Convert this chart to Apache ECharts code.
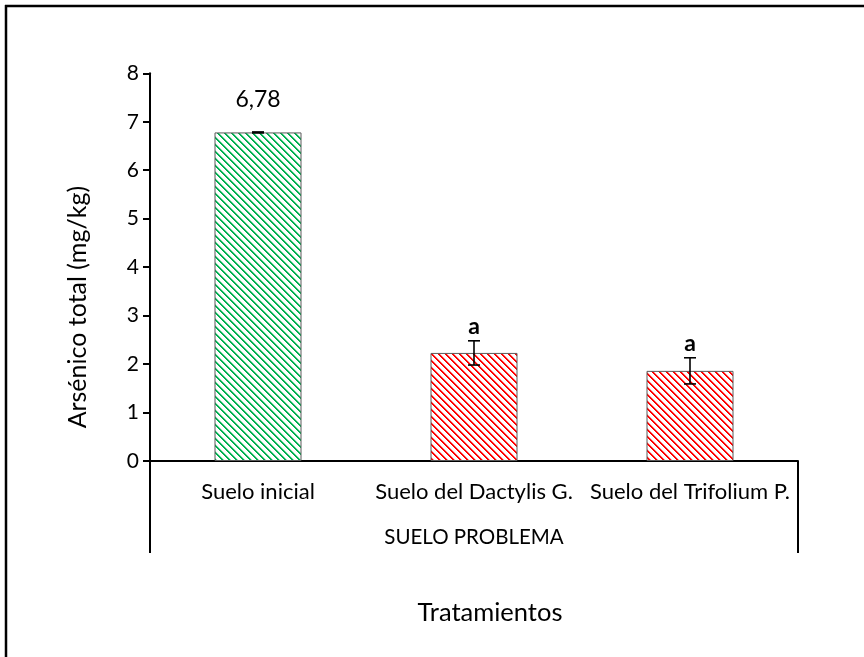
<!DOCTYPE html>
<html>
<head>
<meta charset="utf-8">
<script src="https://cdn.jsdelivr.net/npm/echarts@6/dist/echarts.min.js"></script>
<style>
  html, body { margin: 0; padding: 0; background: #fff; }
  #chart { width: 864px; height: 657px; }
</style>
</head>
<body>
<div id="chart"></div>
<script>
// Total arsenic per treatment (mean ± error)
const categories = ['Suelo inicial', 'Suelo del Dactylis G.', 'Suelo del Trifolium P.'];
const groupLabels = ['SUELO PROBLEMA'];
const means = [6.78, 2.23, 1.86];
const errors = [0.01, 0.25, 0.27];
const letters = ['', 'a', 'a'];
const yTicks = [0, 1, 2, 3, 4, 5, 6, 7, 8];

const FONT = 'Lato';

// Diagonal hatch fill (top-left to bottom-right stripes)
function hatch(color, soft) {
  const n = 7;
  const c = document.createElement('canvas');
  c.width = n; c.height = n;
  const ctx = c.getContext('2d');
  ctx.fillStyle = '#ffffff';
  ctx.fillRect(0, 0, n, n);
  for (let y = 0; y < n; y++) {
    ctx.fillStyle = color;
    ctx.fillRect(y % n, y, 1, 1);
    ctx.fillRect((y + 1) % n, y, 1, 1);
    ctx.fillStyle = soft;
    ctx.fillRect((y + 2) % n, y, 1, 1);
  }
  return c;
}
const greenFill = { image: hatch('#00B050', 'rgba(0,176,80,0.35)'), repeat: 'repeat' };
const redFill = { image: hatch('#FF0000', 'rgba(255,0,0,0.35)'), repeat: 'repeat' };
const fills = [greenFill, redFill, redFill];

const chart = echarts.init(document.getElementById('chart'), null, { renderer: 'canvas' });

const barData = means.map((v, i) => ({
  value: v,
  itemStyle: { color: fills[i], borderColor: '#5a5a5a', borderWidth: 1 },
  label: i === 0 ? {
    show: true, position: 'top', distance: 21,
    formatter: p => p.value.toFixed(2).replace('.', ','),
    fontFamily: FONT, fontSize: 23, color: '#000'
  } : { show: false }
}));

const errData = means.map((v, i) => [i, v, errors[i]]);

chart.setOption({
  animation: false,
  backgroundColor: '#ffffff',
  grid: { left: 150, right: 66, top: 73.3, bottom: 196, containLabel: false },
  xAxis: [
    {
      type: 'category',
      data: categories,
      axisLine: { show: true, lineStyle: { color: '#000', width: 2 } },
      axisTick: { show: false },
      axisLabel: { interval: 0, margin: 20, fontFamily: FONT, fontSize: 22, color: '#000' },
      name: 'Tratamientos',
      nameLocation: 'middle',
      nameGap: 139,
      nameTextStyle: { fontFamily: FONT, fontSize: 25.5, color: '#000', padding: [0, 0, 0, 32] }
    },
    {
      type: 'category',
      data: groupLabels,
      position: 'bottom',
      axisLine: { show: false },
      axisTick: { show: true, inside: false, length: 92, lineStyle: { color: '#000', width: 2 } },
      axisLabel: { margin: 66, fontFamily: FONT, fontSize: 20.5, color: '#000' }
    }
  ],
  yAxis: {
    type: 'value',
    min: 0, max: 8, interval: 1,
    axisLine: { show: true, lineStyle: { color: '#000', width: 2 } },
    axisTick: { show: true, inside: false, length: 7, lineStyle: { color: '#000', width: 2 } },
    splitLine: { show: false },
    axisLabel: {
      margin: 11, fontFamily: FONT, fontSize: 21, color: '#000',
      formatter: v => (yTicks.includes(v) ? String(v) : '')
    },
    name: 'Arsénico total (mg/kg)',
    nameLocation: 'middle',
    nameGap: 60,
    nameTextStyle: { fontFamily: FONT, fontSize: 25, color: '#000', padding: [0, 80, 0, 0] }
  },
  series: [
    {
      type: 'bar',
      xAxisIndex: 0,
      data: barData,
      barWidth: 87
    },
    {
      type: 'custom',
      xAxisIndex: 0,
      data: errData,
      z: 10,
      renderItem: function (params, api) {
        const x = api.value(0);
        const m = api.value(1);
        const e = api.value(2);
        const letter = letters[params.dataIndex];
        const hi = api.coord([x, m + e]);
        const lo = api.coord([x, m - e]);
        const cap = 6;
        const style = { stroke: '#000', lineWidth: 1.6 };
        const children = [
          { type: 'line', shape: { x1: hi[0], y1: hi[1], x2: lo[0], y2: lo[1] }, style },
          { type: 'line', shape: { x1: hi[0] - cap, y1: hi[1], x2: hi[0] + cap, y2: hi[1] }, style },
          { type: 'line', shape: { x1: lo[0] - cap, y1: lo[1], x2: lo[0] + cap, y2: lo[1] }, style }
        ];
        if (letter) {
          children.push({
            type: 'text',
            style: {
              text: letter, x: hi[0], y: hi[1] - 3,
              align: 'center', verticalAlign: 'bottom',
              font: 'bold 23px ' + FONT, fill: '#000'
            }
          });
        }
        return { type: 'group', children };
      }
    }
  ],
  graphic: [
    { type: 'line', shape: { x1: 5, y1: 6, x2: 864, y2: 6 }, style: { stroke: '#000', lineWidth: 2.5 } },
    { type: 'line', shape: { x1: 6, y1: 5, x2: 6, y2: 657 }, style: { stroke: '#000', lineWidth: 2.5 } }
  ]
});
</script>
</body>
</html>
